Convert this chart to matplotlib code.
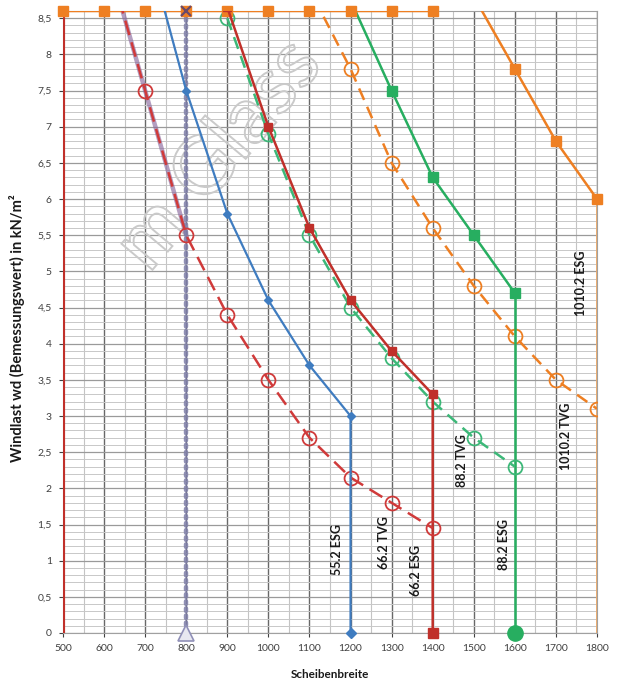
import matplotlib
matplotlib.use("Agg")
import matplotlib.pyplot as plt
import numpy as np
from matplotlib.ticker import MultipleLocator, FuncFormatter
from matplotlib.textpath import TextPath
from matplotlib.patches import PathPatch
from matplotlib.font_manager import FontProperties
import matplotlib.transforms as mtransforms

plt.rcParams['font.family'] = ['Lato', 'DejaVu Sans']

# ---- data ----
x_552esg = [700, 800, 900, 1000, 1100, 1200, 1200]
y_552esg = [9.6, 7.5, 5.8, 4.6, 3.7, 3.0, 0.0]

x_662tvg = [600, 700, 800, 900, 1000, 1100, 1200, 1300, 1400]
y_662tvg = [9.5, 7.5, 5.5, 4.4, 3.5, 2.7, 2.15, 1.8, 1.45]

x_662esg = [900, 1000, 1100, 1200, 1300, 1400, 1400]
y_662esg = [8.65, 7.0, 5.6, 4.6, 3.9, 3.3, 0.0]

x_882tvg = [900, 1000, 1100, 1200, 1300, 1400, 1500, 1600]
y_882tvg = [8.5, 6.9, 5.5, 4.5, 3.8, 3.2, 2.7, 2.3]

x_882esg = [1200, 1300, 1400, 1500, 1600]
y_882esg = [8.75, 7.5, 6.3, 5.5, 4.7]
x_882esg_drop = [1600, 1600]
y_882esg_drop = [4.7, 0.0]

x_1010tvg = [1100, 1200, 1300, 1400, 1500, 1600, 1700, 1800]
y_1010tvg = [8.9, 7.8, 6.5, 5.6, 4.8, 4.1, 3.5, 3.1]

x_1010esg = [500, 600, 700, 800, 900, 1000, 1100, 1200, 1300, 1400, 1500, 1600, 1700, 1800]
y_1010esg = [8.6, 8.6, 8.6, 8.6, 8.6, 8.6, 8.6, 8.6, 8.6, 8.6, 8.8, 7.8, 6.8, 6.0]
x_1010esg_drop = [1800, 1800]
y_1010esg_drop = [6.0, 0.0]

x_left = [500, 500]
y_left = [0.0, 8.6]

x_442 = [600, 700, 800]
y_442 = [9.5, 7.5, 5.5]
x_442_vert = [800, 800]
y_442_vert = [8.6, 0.0]

labels = ["55.2 ESG", "66.2 TVG", "66.2 ESG", "88.2 TVG", "88.2 ESG", "1010.2 TVG", "1010.2 ESG"]
label_x = [1166, 1281, 1360, 1471, 1573, 1724, 1762]
label_y = [1.15, 1.25, 0.87, 2.39, 1.23, 2.72, 4.83]

XMIN, XMAX, YMIN, YMAX = 500, 1800, 0, 8.6

# ---- colours ----
c_blue = '#3F7CC0'
c_red = '#C0302A'
c_red2 = '#D03A3A'
c_green = '#27AE60'
c_green2 = '#3CB878'
c_orange = '#EE7F22'
c_orange2 = '#EBA868'
c_purple = '#8A6A9E'
c_purple2 = '#7E7EA8'

fig = plt.figure(figsize=(6.22, 6.81), dpi=100)
ax = fig.add_axes([63/622, 48/681, 534/622, 622/681])
ax.set_xlim(XMIN, XMAX)
ax.set_ylim(YMIN, YMAX)

ax.xaxis.set_major_locator(MultipleLocator(100))
ax.xaxis.set_minor_locator(MultipleLocator(50))
ax.yaxis.set_major_locator(MultipleLocator(0.5))
ax.yaxis.set_minor_locator(MultipleLocator(0.1))
ax.grid(which='major', axis='x', color='#686868', lw=1.0, zorder=0)
ax.grid(which='minor', axis='x', color='#C4C4C4', lw=0.8, zorder=0)
ax.grid(which='major', axis='y', color='#9A9A9A', lw=0.9, zorder=0)
ax.grid(which='minor', axis='y', color='#C8C8C8', lw=0.7, zorder=0)
ax.set_axisbelow(True)

fmt = FuncFormatter(lambda v, p: (('%g' % round(v, 2)).replace('.', ',')))
ax.yaxis.set_major_formatter(fmt)
ax.tick_params(axis='both', which='major', labelsize=7.5, colors='#404040', length=3,
               width=0.8, pad=5)
ax.tick_params(axis='both', which='minor', length=0)
for s in ['top', 'right', 'left', 'bottom']:
    ax.spines[s].set_color('#A0A0A0')
    ax.spines[s].set_linewidth(0.8)

# faint watermark (outlined letters), placed in pixel coordinates
fp = FontProperties(family='Lato', weight='normal')
tp = TextPath((0, 0), 'm Glass', size=80, prop=fp)
bb = tp.get_extents()
tr = (mtransforms.Affine2D()
      .translate(-(bb.x0 + bb.width / 2), -(bb.y0 + bb.height / 2))
      .rotate_deg(50)
      .translate(215, 681 - 150))
wm = PathPatch(tr.transform_path(tp), facecolor='none', edgecolor='#CACACA', lw=1.4,
               zorder=2, transform=mtransforms.IdentityTransform())
ax.add_patch(wm)

# left red line
ax.plot(x_left, y_left, color=c_red, lw=3, zorder=4, solid_capstyle='butt')

# purple series
ax.plot(x_442, y_442, color=c_purple, lw=3.2, alpha=0.65, zorder=3)
ax.plot(x_442_vert, y_442_vert, color=c_purple2, lw=3.2, alpha=0.85, zorder=3,
        linestyle=(0, (0.6, 1.0)), dash_capstyle='round')
ax.plot([x_442_vert[0]], [y_442_vert[0]], marker='x', ms=7, mew=1.6, color='#6A4A6A',
        clip_on=False, zorder=8)
ax.plot([x_442_vert[1]], [y_442_vert[1]], marker='^', ms=11, mfc='#E8E8F0', mec='#9090B8',
        mew=1.2, clip_on=False, zorder=8, linestyle='none')

# 1010.2 ESG (orange solid, squares)
ax.plot(x_1010esg, y_1010esg, color=c_orange, lw=1.8, zorder=5)
mx = [x for x, y in zip(x_1010esg, y_1010esg) if y <= YMAX]
my = [y for y in y_1010esg if y <= YMAX]
ax.plot(mx, my, 's', color=c_orange, ms=6.5, clip_on=False, zorder=6)
ax.plot(x_1010esg_drop, y_1010esg_drop, color=c_orange2, lw=1.3, zorder=4)

# 1010.2 TVG (orange dashed, open circles)
ax.plot(x_1010tvg, y_1010tvg, color=c_orange, lw=1.8, ls=(0, (5, 3)), zorder=5,
        marker='o', ms=10, mfc='none', mec=c_orange, mew=1.3)

# 88.2 ESG (green solid, squares)
ax.plot(x_882esg, y_882esg, color=c_green, lw=1.8, zorder=5, marker='s', ms=6.5)
ax.plot(x_882esg_drop, y_882esg_drop, color=c_green, lw=1.8, zorder=5)
ax.plot([x_882esg_drop[1]], [y_882esg_drop[1]], 'o', color=c_green, ms=11, clip_on=False, zorder=7)

# 88.2 TVG (green dashed, open circles)
ax.plot(x_882tvg, y_882tvg, color=c_green2, lw=1.8, ls=(0, (5, 3)), zorder=5,
        marker='o', ms=10, mfc='none', mec=c_green2, mew=1.3)

# 66.2 ESG (dark red solid, squares)
ax.plot(x_662esg, y_662esg, color=c_red, lw=1.8, zorder=6, marker='s', ms=5.5)
ax.plot([x_662esg[-1]], [y_662esg[-1]], 's', color=c_red, ms=6.5, clip_on=False, zorder=7)

# 66.2 TVG (red dashed, open circles)
ax.plot(x_662tvg, y_662tvg, color=c_red2, lw=1.8, ls=(0, (6, 3)), zorder=6,
        marker='o', ms=10, mfc='none', mec=c_red2, mew=1.3)

# 55.2 ESG (blue solid, diamonds)
ax.plot(x_552esg, y_552esg, color=c_blue, lw=1.6, zorder=6, marker='D', ms=4.5)
ax.plot([x_552esg[-1]], [y_552esg[-1]], 'D', color=c_blue, ms=5, clip_on=False, zorder=7)

# series labels
for t, lx, ly in zip(labels, label_x, label_y):
    ax.text(lx, ly, t, rotation=90, ha='center', va='center', fontsize=9,
            fontweight='bold', color='#1A1A1A', zorder=9)

ax.set_xlabel('Scheibenbreite', fontsize=8.5, fontweight='bold', color='#1A1A1A')
ax.xaxis.set_label_coords(0.5, -0.058)
ax.set_ylabel('Windlast wd (Bemessungswert) in kN/m²', fontsize=10.5, fontweight='bold',
              color='#1A1A1A')
ax.yaxis.set_label_coords(-0.072, 0.49)

fig.savefig('out.png', dpi=100)
